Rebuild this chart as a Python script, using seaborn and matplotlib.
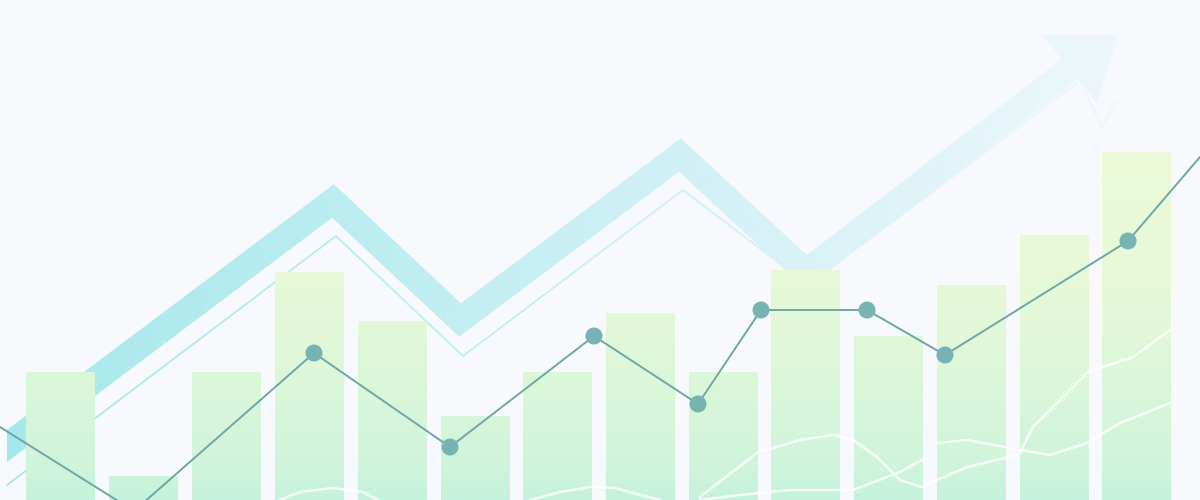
import numpy as np
import matplotlib
matplotlib.use('Agg')
import matplotlib.pyplot as plt
from matplotlib.colors import to_rgb, LinearSegmentedColormap
import seaborn as sns

# bars (x centre, height)
bar_pos = [60, 143, 226, 309, 392, 475, 557, 640, 723, 805, 888, 971, 1054, 1136]
bar_vals = [128, 24, 128, 228, 179, 84, 128, 187, 128, 230, 164, 215, 265, 348]

# teal line, points with markers are the inner ones
line_x = [0, 134, 314, 450, 594, 698, 761, 867, 945, 1128, 1200]
line_y = [73, -11, 147, 53, 164, 96, 190, 190, 145, 259, 343]
dot_x = line_x[2:10]
dot_y = line_y[2:10]

# big trend arrow (centre of the band) and its head
trend_x = [7, 333, 460, 680, 806, 1070]
trend_y = [54, 299, 180, 345, 228, 431]
head_x = [1043, 1118, 1097]
head_y = [465, 465, 397]

# thin line under the arrow
thin_x = [7, 336, 463, 683, 808, 1080, 1102, 1116]
thin_y = [15, 264, 144, 310, 215, 419, 373, 398]

# white wavy lines over the bars
wave1_x = [700, 757, 800, 833, 853, 877, 900, 922, 937, 967, 1005, 1020, 1033, 1067, 1088, 1103, 1133, 1170]
wave1_y = [3, 47, 60, 65, 60, 43, 20, 13, 20, 33, 42, 47, 73, 107, 128, 133, 143, 170]
wave2_x = [937, 967, 1005, 1020, 1050, 1087, 1120, 1170]
wave2_y = [57, 60, 53, 50, 45, 57, 77, 97]
wave3_x = [280, 300, 333, 363, 378]
wave3_y = [0, 8, 12, 8, 0]
wave4_x = [530, 560, 590, 615, 640, 660]
wave4_y = [0, 8, 13, 12, 5, 0]
wave5_x = [700, 740, 790, 853, 900, 922]
wave5_y = [0, 5, 10, 10, 28, 40]

bg = '#f7f9fd'
band_col = '#a5e8ec'

fig = plt.figure(figsize=(12, 5), dpi=100)
fig.patch.set_facecolor(bg)
ax = fig.add_axes([0, 0, 1, 1])
ax.set_facecolor(bg)

# bars with vertical gradient
sns.barplot(x=bar_pos, y=bar_vals, native_scale=True, width=0.83,
            color='#d8f6da', ax=ax, zorder=3)
bars = list(ax.patches)
stops = [(0.0, '#c5f2dd'), (0.06, '#cff4dc'), (0.26, '#ddf7d9'),
         (0.46, '#e7f9d8'), (0.7, '#ecfad8'), (1.0, '#f0fbd8')]
cmap = LinearSegmentedColormap.from_list('barfill', stops)
grad = np.linspace(1, 0, 256)[:, None]
for p in bars:
    p.set_edgecolor('none')
    im = ax.imshow(grad, cmap=cmap, vmin=0, vmax=1, extent=[0, 1200, 0, 500],
                   aspect='auto', zorder=3.5, interpolation='bilinear')
    im.set_clip_path(p)

# trend band + thin line, cut straight at the left end
band, = ax.plot(trend_x, trend_y, color=band_col, lw=18.5, solid_joinstyle='miter',
                solid_capstyle='projecting', zorder=1)
left_cut = plt.Rectangle((7, 0), 1193, 500, transform=ax.transData)
band.set_clip_path(left_cut)
ax.fill(head_x, head_y, color=band_col, lw=0, zorder=1)
ax.plot(thin_x, thin_y, color=band_col, lw=1.3, zorder=1)

# fade the arrow towards the right with a background coloured overlay
ramp = np.clip(np.linspace(0, 1200, 600) / 1000 * 0.8, 0, 0.9)
fade = np.zeros((2, 600, 4))
fade[..., :3] = to_rgb(bg)
fade[..., 3] = ramp
ax.imshow(fade, extent=[0, 1200, 0, 500], aspect='auto', zorder=2,
          interpolation='bilinear')

for wx, wy in [(wave1_x, wave1_y), (wave2_x, wave2_y), (wave3_x, wave3_y),
               (wave4_x, wave4_y), (wave5_x, wave5_y)]:
    ax.plot(wx, wy, color='white', lw=1.8, alpha=0.8, zorder=4,
            solid_joinstyle='round')

sns.lineplot(x=line_x, y=line_y, sort=False, color='#6fa6a6', lw=1.4,
             ax=ax, zorder=5)
sns.scatterplot(x=dot_x, y=dot_y, color='#78b3b3', s=150, edgecolor='none',
                ax=ax, zorder=6)

ax.set_xlim(0, 1200)
ax.set_ylim(0, 500)
ax.axis('off')

fig.savefig('out.png', dpi=100, facecolor=bg)
